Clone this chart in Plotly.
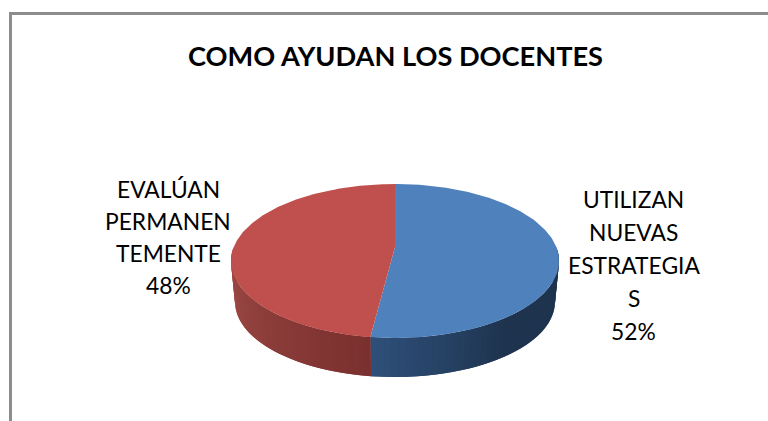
import numpy as np
import plotly.graph_objects as go

title = "COMO AYUDAN LOS DOCENTES"
categories = ["UTILIZAN NUEVAS ESTRATEGIAS", "EVALÚAN PERMANENTEMENTE"]
values = [52, 48]
label_lines = [["UTILIZAN", "NUEVAS", "ESTRATEGIA", "S"], ["EVALÚAN", "PERMANEN", "TEMENTE"]]

top_colors = ["#4F81BD", "#C0504D"]
side_from = [(46, 80, 122), (122, 48, 46)]   # shade at the front slice boundary
side_to = [(30, 51, 78), (166, 80, 76)]      # shade at the outer end
ramp_span = [0.75, np.pi / 2]                # radians over which the shade changes

W, H = 768, 421
CX, CY, R, S, K = 395.0, 247.0, 161.3, 74.45, 0.1818
DEPTH_SCALE, LOWER_CY = 0.975, 288.3


def project(theta, cy=CY, scale=1.0):
    """theta clockwise from 12 o'clock on the unit disc, perspective-projected."""
    u, v = np.sin(theta), np.cos(theta)
    w = 1 + K * v
    return CX + scale * R * u / w, cy - scale * S * v / w


fracs = np.array(values) / sum(values)
edges = np.concatenate([[0], np.cumsum(fracs)]) * 2 * np.pi

fig = go.Figure()


def poly(x, y, color):
    fig.add_trace(go.Scatter(x=x, y=y, mode="lines", fill="toself", fillcolor=color,
                             line=dict(width=0), hoverinfo="skip", showlegend=False))


# side wall: visible where the rim faces the viewer
for i in range(2):
    a0 = max(edges[i], np.pi / 2)
    a1 = min(edges[i + 1], 3 * np.pi / 2)
    n = 48
    st = np.linspace(a0, a1, n + 1)
    order = range(n) if i == 0 else range(n - 1, -1, -1)
    for j in order:
        # each strip reaches over the next one, so no seams show between them
        reach = st[min(j + 2, n)] if i == 0 else st[max(j - 1, 0)]
        t = np.linspace(st[j + 1] if i == 1 else st[j], reach, 6)
        mid = (st[j] + st[j + 1]) / 2
        f = min(abs(mid - edges[1]) / ramp_span[i], 1)
        c = [round(side_from[i][k] + (side_to[i][k] - side_from[i][k]) * f) for k in range(3)]
        xt, yt = project(t)
        xb, yb = project(t[::-1], LOWER_CY, DEPTH_SCALE)
        poly(np.r_[xt, xb], np.r_[yt, yb], f"rgb({c[0]},{c[1]},{c[2]})")

# top face
for i in range(2):
    t = np.linspace(edges[i], edges[i + 1], 200)
    x, y = project(t)
    poly(np.r_[CX, x, CX], np.r_[CY, y, CY], top_colors[i])

annotations = []
FONT = "Lato, Carlito, Calibri, sans-serif"


def text(x, y, s, size, bold=False):
    annotations.append(dict(x=x, y=y, xref="x", yref="y", text=f"<b>{s}</b>" if bold else s,
                            showarrow=False, xanchor="center", yanchor="middle",
                            font=dict(family=FONT, size=size, color="#000000")))


text(395, 55, title, 27.2, True)
for k, line in enumerate(label_lines[0] + [f"{values[0]}%"]):
    text(633.5, 198.5 + k * 33, line, 22.8)
for k, line in enumerate(label_lines[1] + [f"{values[1]}%"]):
    text(168, 188.5 + k * 32, line, 22.8)

fig.update_layout(
    width=W, height=H, margin=dict(l=0, r=0, t=0, b=0),
    paper_bgcolor="white", plot_bgcolor="white", showlegend=False,
    xaxis=dict(range=[0, W], visible=False, fixedrange=True),
    yaxis=dict(range=[H, 0], visible=False, fixedrange=True),
    annotations=annotations,
    shapes=[
        dict(type="line", xref="paper", yref="paper", x0=10.5 / W, x1=1, y0=1 - 13.5 / H, y1=1 - 13.5 / H,
             line=dict(color="#8C8C8C", width=3)),
        dict(type="line", xref="paper", yref="paper", x0=10.5 / W, x1=10.5 / W, y0=1 - 12 / H, y1=0,
             line=dict(color="#8C8C8C", width=3)),
    ],
)
fig.write_html("out.html", config=dict(displayModeBar=False),
               post_script="document.body.style.margin='0';document.body.style.overflow='hidden';")
